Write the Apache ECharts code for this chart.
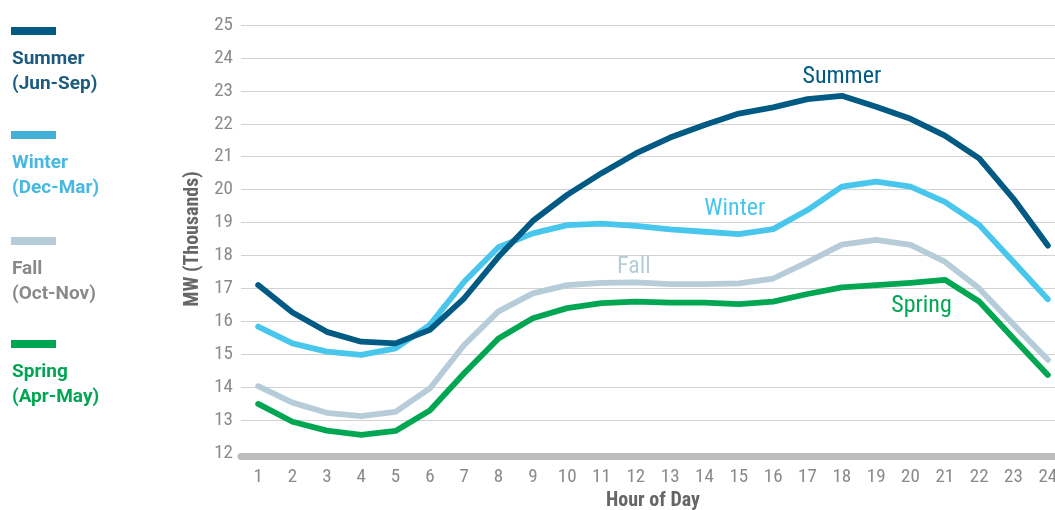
<!DOCTYPE html>
<html>
<head>
<meta charset="utf-8">
<script src="https://cdn.jsdelivr.net/npm/echarts@6/dist/echarts.min.js"></script>
<style>
html,body{margin:0;padding:0;background:#fff;}
#c{width:1055px;height:510px;}
</style>
</head>
<body>
<div id="c"></div>
<script>
var hours = ['1','2','3','4','5','6','7','8','9','10','11','12','13','14','15','16','17','18','19','20','21','22','23','24'];
var summer = [17.1,16.27,15.68,15.38,15.33,15.74,16.7,17.96,19.05,19.84,20.5,21.1,21.58,21.96,22.31,22.5,22.75,22.85,22.52,22.15,21.64,20.95,19.72,18.3];
var winter = [15.84,15.33,15.08,14.98,15.18,15.89,17.2,18.25,18.67,18.92,18.97,18.9,18.79,18.72,18.65,18.8,19.38,20.09,20.24,20.09,19.63,18.93,17.8,16.67];
var fall = [14.03,13.53,13.22,13.12,13.25,13.96,15.28,16.3,16.85,17.1,17.17,17.18,17.13,17.13,17.15,17.3,17.8,18.33,18.47,18.32,17.81,17.0,15.9,14.83];
var spring = [13.49,12.95,12.68,12.55,12.67,13.29,14.42,15.48,16.09,16.4,16.55,16.6,16.57,16.57,16.52,16.6,16.83,17.03,17.1,17.17,17.26,16.6,15.48,14.37];
var yTicks = [12,25,1];
var seriesNames = ['Summer','Winter','Fall','Spring'];
var legendLines = [['Summer','(Jun-Sep)'],['Winter','(Dec-Mar)'],['Fall','(Oct-Nov)'],['Spring','(Apr-May)']];
var lineColors = ['#005a84','#48c6ec','#b6ccd9','#00a651'];
var legendRectColors = ['#005a84','#44b0d8','#b6ccd9','#00a651'];
var legendTextColors = ['#1c5b80','#48b8e0','#8a8a8a','#00a651'];
// series label anchors: [hour, value]
var labelAnchors = [['18',23.42],['15',19.41],['12',17.65],['20',16.47]];
var labelOffsets = [[0,0],[-4,0],[-2,0],[11,0]];

var COND = "'Roboto Condensed','Liberation Sans Narrow','DejaVu Sans Condensed',Roboto,sans-serif";

var chart = echarts.init(document.getElementById('c'), null, {renderer:'canvas'});

var dataSets = [summer, winter, fall, spring];
var series = dataSets.map(function(d, i){
  return {
    name: seriesNames[i],
    type: 'line',
    data: d,
    symbol: 'none',
    z: 10 - i,
    lineStyle: {color: lineColors[i], width: 5.8, cap: 'round', join: 'round'},
    itemStyle: {color: lineColors[i]},
    markPoint: {
      symbol: 'circle',
      symbolSize: 0,
      silent: true,
      data: [{coord: labelAnchors[i], value: seriesNames[i]}],
      label: {
        show: true,
        position: 'inside',
        offset: labelOffsets[i],
        formatter: seriesNames[i],
        color: lineColors[i],
        fontSize: 24,
        fontFamily: COND
      }
    }
  };
});

var legendY = [27,131,237,340];
var graphics = [];
legendY.forEach(function(y, i){
  graphics.push({type:'rect', left: 11, top: y, shape:{width:45, height:8}, style:{fill: legendRectColors[i]}});
  graphics.push({type:'text', left: 12, top: y + 20, style:{
    text: legendLines[i][0] + '\n' + legendLines[i][1],
    fill: legendTextColors[i], font: 'bold 19px Roboto, sans-serif', lineHeight: 25
  }});
});

chart.setOption({
  animation: false,
  backgroundColor: '#ffffff',
  grid: {left: 241, width: 824, top: 25, bottom: 57, containLabel: false, outerBoundsMode: 'none'},
  xAxis: {
    type: 'category',
    data: hours,
    boundaryGap: true,
    offset: 3.5,
    name: 'Hour of Day',
    nameLocation: 'middle',
    nameGap: 34,
    nameTextStyle: {color: '#666666', fontWeight: 'bold', fontSize: 20, fontFamily: COND},
    axisLine: {show: true, lineStyle: {color: '#bdbdbd', width: 7}},
    axisTick: {show: false},
    axisLabel: {color: '#8a8a8a', fontSize: 19, fontFamily: COND, margin: 11},
    splitLine: {show: false}
  },
  yAxis: {
    type: 'value',
    min: yTicks[0],
    max: yTicks[1],
    interval: yTicks[2],
    name: 'MW (Thousands)',
    nameLocation: 'middle',
    nameGap: 33,
    nameRotate: 90,
    nameTextStyle: {color: '#666666', fontWeight: 'bold', fontSize: 20, fontFamily: COND},
    axisLine: {show: false},
    axisTick: {show: false},
    axisLabel: {color: '#8a8a8a', fontSize: 19, fontFamily: COND, margin: 8},
    splitLine: {show: true, lineStyle: {color: '#d2d2d2', width: 1.2}}
  },
  series: series,
  graphic: graphics
});
</script>
</body>
</html>
